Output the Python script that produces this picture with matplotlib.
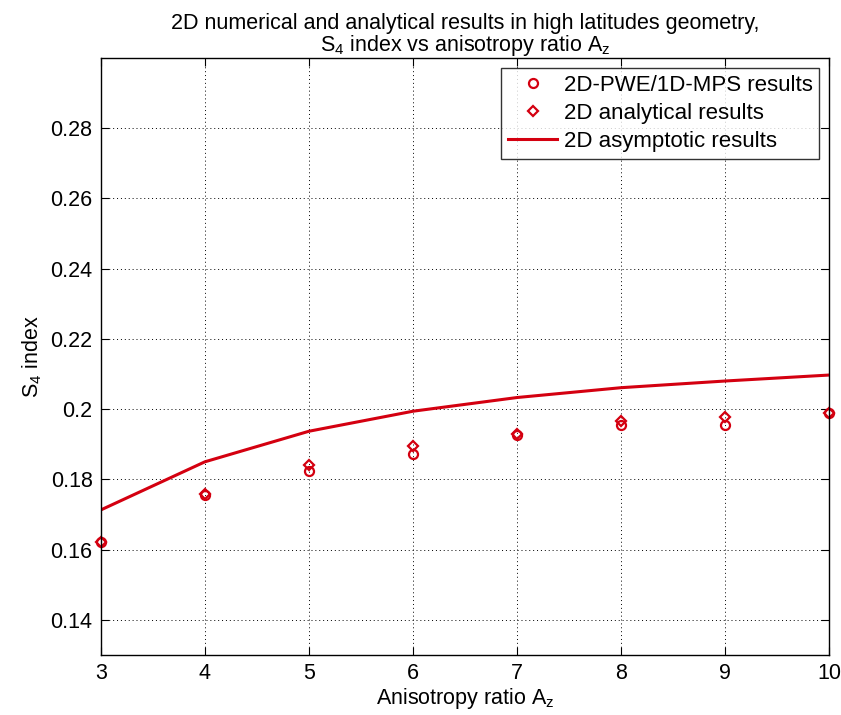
import matplotlib
matplotlib.use("Agg")
import matplotlib.pyplot as plt
from matplotlib.ticker import FuncFormatter

plt.rcParams["font.family"] = ["Liberation Sans", "DejaVu Sans"]

# datos
anis = [3, 4, 5, 6, 7, 8, 9, 10]
pwe_mps = [0.1621, 0.1755, 0.1824, 0.1872, 0.1927, 0.1956, 0.1954, 0.1989]
analitico = [0.1623, 0.1757, 0.1841, 0.1894, 0.1929, 0.1966, 0.1977, 0.1990]
asintotico = [0.1713, 0.1850, 0.1937, 0.1994, 0.2033, 0.2061, 0.2080, 0.2097]

fig = plt.figure(figsize=(8.41, 7.15), dpi=100)
ax = fig.add_axes([0.120, 0.084, 0.866, 0.835])

rojo = "#d40010"
ax.plot(anis, pwe_mps, "o", mfc="none", mec=rojo, mew=1.6, ms=6.5,
        label="2D-PWE/1D-MPS results", clip_on=False)
ax.plot(anis, analitico, "D", mfc="none", mec=rojo, mew=1.6, ms=5.5,
        label="2D analytical results", clip_on=False)
ax.plot(anis, asintotico, "-", color=rojo, lw=2.2,
        label="2D asymptotic results")

ax.set_xlim(3, 10)
ax.set_ylim(0.13, 0.30)
ax.set_xticks(range(3, 11))
ax.set_yticks([0.14, 0.16, 0.18, 0.20, 0.22, 0.24, 0.26, 0.28])
ax.yaxis.set_major_formatter(FuncFormatter(lambda v, p: f"{v:g}"))
ax.tick_params(direction="in", top=True, right=True, labelsize=15.5, length=6,
               pad=6)
ax.grid(True, linestyle=(0, (1, 3)), color="black", lw=0.7)
for s in ax.spines.values():
    s.set_linewidth(1.0)

ax.set_title("2D numerical and analytical results in high latitudes geometry,\n"
             "S$_\\mathregular{4}$ index vs anisotropy ratio A$_\\mathregular{z}$",
             fontsize=15.5, linespacing=0.95, pad=5)
ax.set_xlabel("Anisotropy ratio A$_\\mathregular{z}$", fontsize=15.5, labelpad=1)
ax.set_ylabel("S$_\\mathregular{4}$ index", fontsize=15.5, labelpad=5)

leg = ax.legend(loc="upper right", fontsize=16, frameon=True, fancybox=False,
                edgecolor="black", borderaxespad=0.45, handlelength=2.2,
                labelspacing=0.33, borderpad=0.3, handletextpad=0.3)
leg.get_frame().set_linewidth(1.0)

fig.savefig("out.png", dpi=100)
